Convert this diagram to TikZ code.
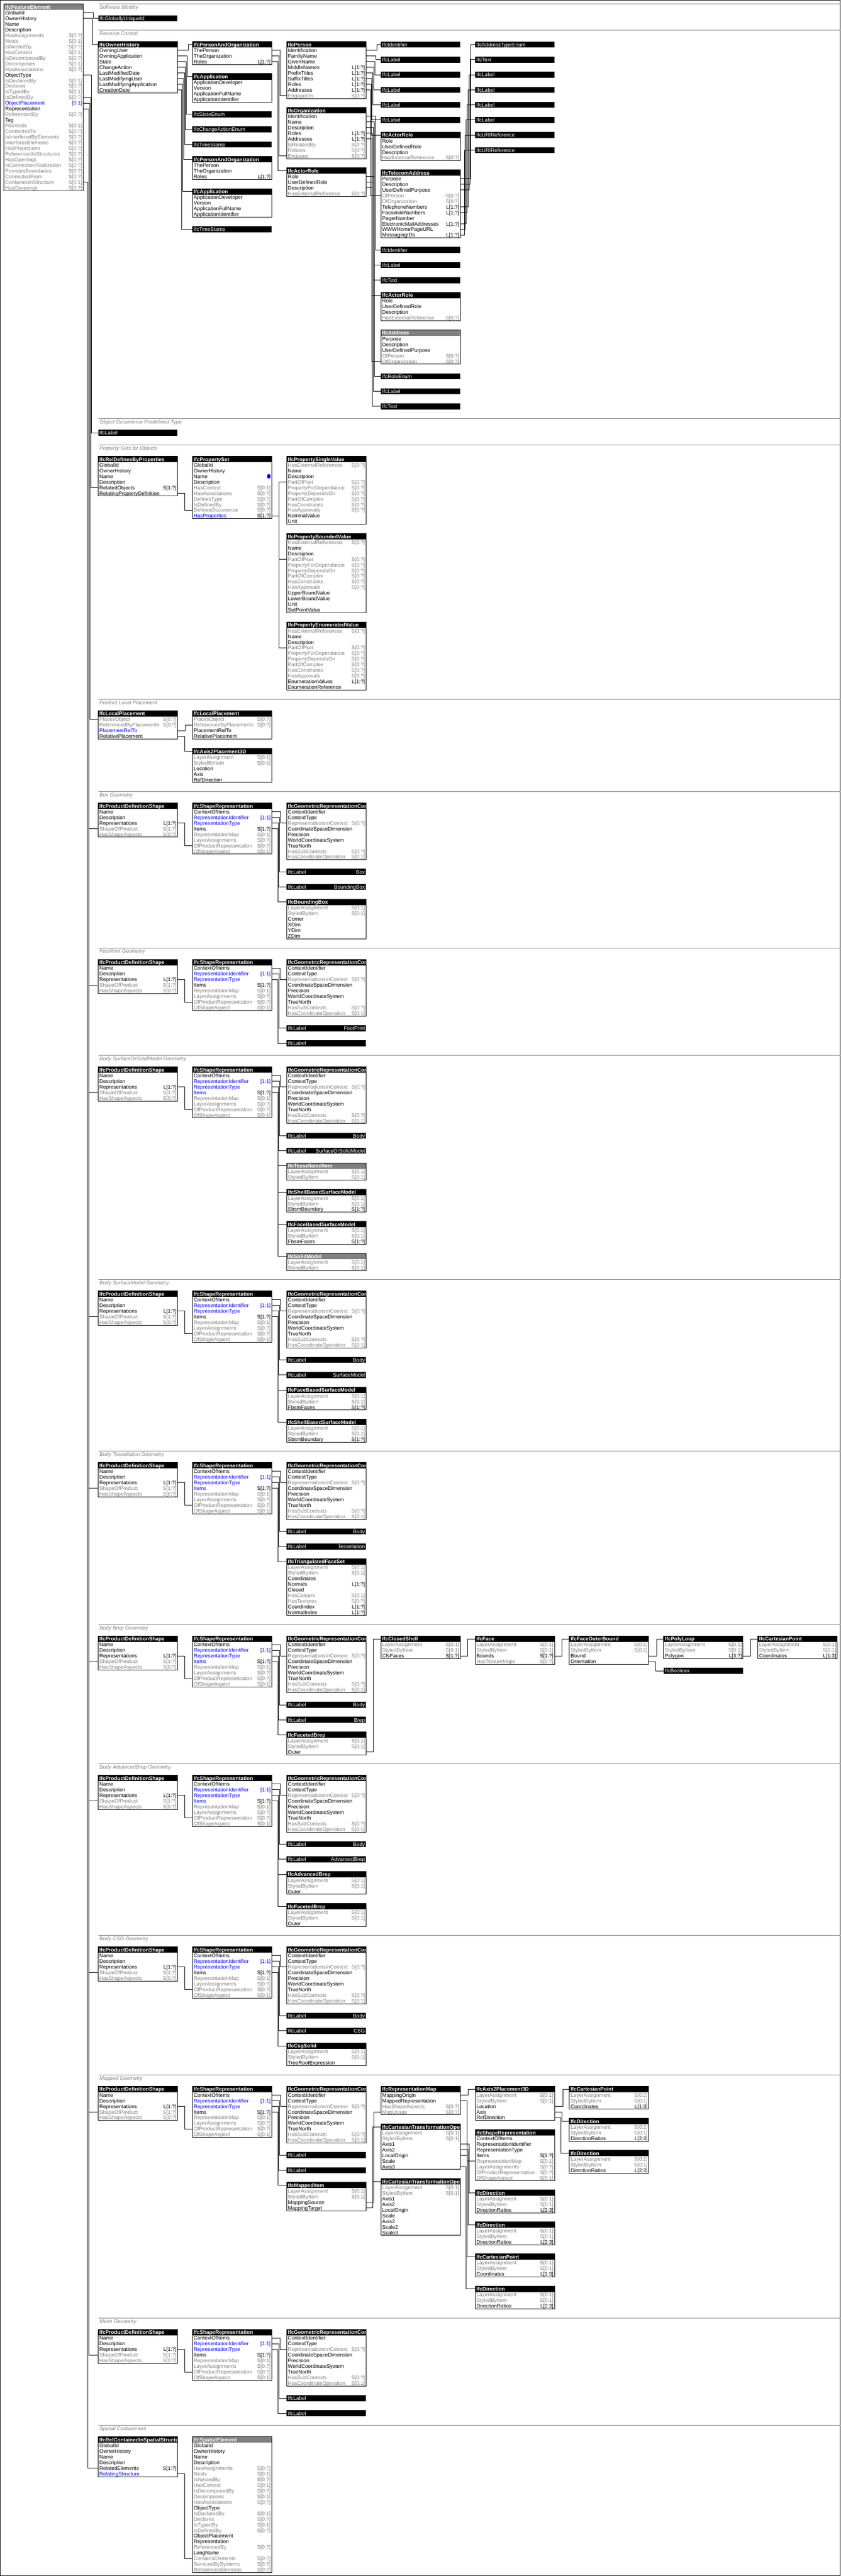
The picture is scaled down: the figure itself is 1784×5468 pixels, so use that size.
\documentclass[tikz,border=0pt]{standalone}
\usepackage{fontspec}
\setmainfont{Liberation Sans}
\definecolor{gt}{HTML}{808080}
\definecolor{bl}{HTML}{0000FF}
\newcounter{rowi}
\newcommand\fs{\fontsize{11}{12}\selectfont}
\tikzset{
 att/.style={anchor=base west,inner sep=0pt,font=\fs},
 crd/.style={anchor=base east,inner sep=0pt,font=\fs},
 hdr/.style={anchor=base west,inner sep=0pt,font=\fs\bfseries,text=white},
 bart/.style={anchor=base west,inner sep=0pt,font=\fs,text=white},
 barv/.style={anchor=base east,inner sep=0pt,font=\fs,text=white},
 sec/.style={anchor=base west,inner sep=0pt,font=\fs\itshape,text=gt},
 cl/.style={line width=1pt},
 bx/.style={line width=1pt},
 sg/.style={draw=gt,line width=1pt}
}
\newcommand\rw[4]{%
  \stepcounter{rowi}%
  \edef\rn{\arabic{rowi}}%
  \pgfmathsetmacro\rc{\EY+12.67+12*\rn-6}%
  \node[att,text=#2] at (\EX+2.5,\rc+4) {#1};%
  \node[crd,text=#4] at (\EX+166.3,\rc+4) {#3};%
  \coordinate (\EN-\rn) at (\EX+168.33,\rc);%
  \coordinate (\EN-w\rn) at (\EX,\rc);%
}
\newcommand\Ka[2]{\rw{#1}{black}{#2}{black}}
\newcommand\Ga[2]{\rw{#1}{gt}{#2}{gt}}
\newcommand\Ba[2]{\rw{#1}{bl}{#2}{bl}}
\newcommand\Bk[2]{\rw{#1}{bl}{#2}{black}}
\newcommand\ent[6]{%
  \def\EN{#1}\def\EX{#2}\def\EY{#3}%
  \setcounter{rowi}{0}%
  #6%
  \pgfmathsetmacro\EB{#3+12.67+12*\arabic{rowi}}%
  \fill[#4] (#2,#3) rectangle ++(168.33,12.67);%
  \begin{scope}\clip (#2,#3) rectangle ++(168.33,12.67);%
  \node[hdr] at (#2+2.5,#3+10.5) {#5};\end{scope}%
  \draw[bx] (#2,#3) rectangle (#2+168.33,\EB);%
  \coordinate (#1) at (#2,#3+6.33);%
}
\newcommand\tb[5]{%
  \fill (#2,#3) rectangle ++(168.33,12.67);%
  \node[bart] at (#2+2.5,#3+10.5) {#4};%
  \node[barv] at (#2+166.3,#3+10.5) {#5};%
  \coordinate (#1) at (#2,#3+6.33);%
}
\newcommand\sect[2]{%
  \draw[sg] (208.33,#1) -- (1784,#1);%
  \node[sec] at (211,#1+10.7) {#2};%
}
\newcommand\cn[3]{\draw[cl] (#1) -- ++(#2,0) |- (#3);}
\newcommand\pds[2]{\ent{#1}{208.33}{#2}{black}{IfcProductDefinitionShape}{\Ka{Name}{}\Ka{Description}{}\Ka{Representations}{L[1:?]}\Ga{ShapeOfProduct}{S[1:?]}\Ga{HasShapeAspects}{S[0:?]}}}
\newcommand\grc[2]{\ent{#1}{608.33}{#2}{black}{IfcGeometricRepresentationContext}{\Ka{ContextIdentifier}{}\Ka{ContextType}{}\Ga{RepresentationsInContext}{S[0:?]}\Ka{CoordinateSpaceDimension}{}\Ka{Precision}{}\Ka{WorldCoordinateSystem}{}\Ka{TrueNorth}{}\Ga{HasSubContexts}{S[0:?]}\Ga{HasCoordinateOperation}{S[0:1]}}}
\newcommand\geo[4]{%
 \pds{#1p}{#2}%
 \ent{#1s}{408.33}{#2}{black}{IfcShapeRepresentation}{\Ka{ContextOfItems}{}\Ba{RepresentationIdentifier}{[1:1]}\Ba{RepresentationType}{}#3{Items}{S[1:?]}\Ga{RepresentationMap}{S[0:1]}\Ga{LayerAssignments}{S[0:?]}\Ga{OfProductRepresentation}{S[0:?]}\Ga{OfShapeAspect}{S[0:1]}}%
 \grc{#1g}{#2}%
 \cn{fe-18}{11.8}{#1p-w4}%
 \cn{#1p-3}{15.8}{#1s-w7}%
 \pgfmathsetmacro\gdx{14.8+#4}%
 \cn{#1s-1}{\gdx}{#1g-w3}%
}
\newcommand\pao[2]{\ent{#1}{408.33}{#2}{black}{IfcPersonAndOrganization}{\Ka{ThePerson}{}\Ka{TheOrganization}{}\Ka{Roles}{L[1:?]}}}
\newcommand\app[2]{\ent{#1}{408.33}{#2}{black}{IfcApplication}{\Ka{ApplicationDeveloper}{}\Ka{Version}{}\Ka{ApplicationFullName}{}\Ka{ApplicationIdentifier}{}}}
\newcommand\actr[3]{\ent{#1}{#2}{#3}{black}{IfcActorRole}{\Ka{Role}{}\Ka{UserDefinedRole}{}\Ka{Description}{}\Ga{HasExternalReference}{S[0:?]}}}
\newcommand\dirn[3]{\ent{#1}{#2}{#3}{black}{IfcDirection}{\Ga{LayerAssignment}{S[0:1]}\Ga{StyledByItem}{S[0:1]}\Ka{DirectionRatios}{L[2:3]}}}
\newcommand\cpnt[3]{\ent{#1}{#2}{#3}{black}{IfcCartesianPoint}{\Ga{LayerAssignment}{S[0:1]}\Ga{StyledByItem}{S[0:1]}\Ka{Coordinates}{L[1:3]}}}
\newcommand\atp[3]{\ent{#1}{#2}{#3}{black}{IfcAxis2Placement3D}{\Ga{LayerAssignment}{S[0:1]}\Ga{StyledByItem}{S[0:1]}\Ka{Location}{}\Ka{Axis}{}\Ka{RefDirection}{}}}
\newcommand\psx[4]{\ent{#1}{608.33}{#2}{black}{#3}{\Ga{HasExternalReferences}{S[0:?]}\Ka{Name}{}\Ka{Description}{}\Ga{PartOfPset}{S[0:?]}\Ga{PropertyForDependance}{S[0:?]}\Ga{PropertyDependsOn}{S[0:?]}\Ga{PartOfComplex}{S[0:?]}\Ga{HasConstraints}{S[0:?]}\Ga{HasApprovals}{S[0:?]}#4}}
\newcommand\lasb{\Ga{LayerAssignment}{S[0:1]}\Ga{StyledByItem}{S[0:1]}}
\begin{document}
\begin{tikzpicture}[x=1pt,y=-1pt]
\useasboundingbox (0,0) rectangle (1784,5468);
\fill[white] (0,0) rectangle (1784,5468);
\draw[line width=1pt] (0.5,0.5) rectangle (1783.5,5467);
% ---------------- main element
\ent{fe}{8.33}{8.33}{gt}{IfcFeatureElement}{\Ka{GlobalId}{}\Ka{OwnerHistory}{}\Ka{Name}{}\Ka{Description}{}\Ga{HasAssignments}{S[0:?]}\Ga{Nests}{S[0:1]}\Ga{IsNestedBy}{S[0:?]}\Ga{HasContext}{S[0:1]}\Ga{IsDecomposedBy}{S[0:?]}\Ga{Decomposes}{S[0:1]}\Ga{HasAssociations}{S[0:?]}\Ka{ObjectType}{}\Ga{IsDeclaredBy}{S[0:1]}\Ga{Declares}{S[0:?]}\Ga{IsTypedBy}{S[0:1]}\Ga{IsDefinedBy}{S[0:?]}\Ba{ObjectPlacement}{[0:1]}\Ka{Representation}{}\Ga{ReferencedBy}{S[0:?]}\Ka{Tag}{}\Ga{FillsVoids}{S[0:1]}\Ga{ConnectedTo}{S[0:?]}\Ga{IsInterferedByElements}{S[0:?]}\Ga{InterferesElements}{S[0:?]}\Ga{HasProjections}{S[0:?]}\Ga{ReferencedInStructures}{S[0:?]}\Ga{HasOpenings}{S[0:?]}\Ga{IsConnectionRealization}{S[0:?]}\Ga{ProvidesBoundaries}{S[0:?]}\Ga{ConnectedFrom}{S[0:?]}\Ga{ContainedInStructure}{S[0:1]}\Ga{HasCoverings}{S[0:?]}}
% ---------------- Software identity
\sect{8.33}{Software Identity}
\tb{guid}{208.33}{32.33}{IfcGloballyUniqueId}{}
% ---------------- Revision control
\sect{64.33}{Revision Control}
\ent{oh}{208.33}{88.33}{black}{IfcOwnerHistory}{\Ka{OwningUser}{}\Ka{OwningApplication}{}\Ka{State}{}\Ka{ChangeAction}{}\Ka{LastModifiedDate}{}\Ka{LastModifyingUser}{}\Ka{LastModifyingApplication}{}\Ka{CreationDate}{}}
\pao{pao1}{88.33}
\app{app1}{156.33}
\tb{state}{408.33}{236.33}{IfcStateEnum}{}
\tb{cae}{408.33}{268.33}{IfcChangeActionEnum}{}
\tb{ts1}{408.33}{300.33}{IfcTimeStamp}{}
\pao{pao2}{332.33}
\app{app2}{400.33}
\tb{ts2}{408.33}{480.33}{IfcTimeStamp}{}
\ent{per}{608.33}{88.33}{black}{IfcPerson}{\Ka{Identification}{}\Ka{FamilyName}{}\Ka{GivenName}{}\Ka{MiddleNames}{L[1:?]}\Ka{PrefixTitles}{L[1:?]}\Ka{SuffixTitles}{L[1:?]}\Ka{Roles}{L[1:?]}\Ka{Addresses}{L[1:?]}\Ga{EngagedIn}{S[0:?]}}
\ent{org}{608.33}{228.33}{black}{IfcOrganization}{\Ka{Identification}{}\Ka{Name}{}\Ka{Description}{}\Ka{Roles}{L[1:?]}\Ka{Addresses}{L[1:?]}\Ga{IsRelatedBy}{S[0:?]}\Ga{Relates}{S[0:?]}\Ga{Engages}{S[0:?]}}
\actr{ar1}{608.33}{356.33}
\tb{id1}{808.33}{88.33}{IfcIdentifier}{}
\tb{lab1}{808.33}{120.33}{IfcLabel}{}
\tb{lab2}{808.33}{152.33}{IfcLabel}{}
\tb{lab3}{808.33}{184.33}{IfcLabel}{}
\tb{lab4}{808.33}{216.33}{IfcLabel}{}
\tb{lab5}{808.33}{248.33}{IfcLabel}{}
\actr{ar2}{808.33}{280.33}
\ent{tel}{808.33}{360.33}{black}{IfcTelecomAddress}{\Ka{Purpose}{}\Ka{Description}{}\Ka{UserDefinedPurpose}{}\Ga{OfPerson}{S[0:?]}\Ga{OfOrganization}{S[0:?]}\Ka{TelephoneNumbers}{L[1:?]}\Ka{FacsimileNumbers}{L[1:?]}\Ka{PagerNumber}{}\Ka{ElectronicMailAddresses}{L[1:?]}\Ka{WWWHomePageURL}{}\Ka{MessagingIDs}{L[1:?]}}
\tb{id2}{808.33}{524.33}{IfcIdentifier}{}
\tb{lab6}{808.33}{556.33}{IfcLabel}{}
\tb{txt1}{808.33}{588.33}{IfcText}{}
\actr{ar3}{808.33}{620.33}
\ent{addr}{808.33}{700.33}{gt}{IfcAddress}{\Ka{Purpose}{}\Ka{Description}{}\Ka{UserDefinedPurpose}{}\Ga{OfPerson}{S[0:?]}\Ga{OfOrganization}{S[0:?]}}
\tb{role}{808.33}{792.33}{IfcRoleEnum}{}
\tb{lab7}{808.33}{824.33}{IfcLabel}{}
\tb{txt2}{808.33}{856.33}{IfcText}{}
\tb{ate}{1008.33}{88.33}{IfcAddressTypeEnum}{}
\tb{txt3}{1008.33}{120.33}{IfcText}{}
\tb{lab8}{1008.33}{152.33}{IfcLabel}{}
\tb{lab9}{1008.33}{184.33}{IfcLabel}{}
\tb{lab10}{1008.33}{216.33}{IfcLabel}{}
\tb{lab11}{1008.33}{248.33}{IfcLabel}{}
\tb{uri1}{1008.33}{280.33}{IfcURIReference}{}
\tb{uri2}{1008.33}{312.33}{IfcURIReference}{}
% connectors revision control
\cn{fe-1}{21.8}{guid}
\cn{fe-2}{19.8}{oh}
\cn{oh-1}{22.8}{pao1}
\cn{oh-2}{20.8}{app1}
\cn{oh-3}{18.8}{state}
\cn{oh-4}{16.8}{cae}
\cn{oh-5}{14.8}{ts1}
\cn{oh-6}{12.8}{pao2}
\cn{oh-7}{10.8}{app2}
\cn{oh-8}{8.8}{ts2}
\cn{pao1-1}{17.8}{per-w9}
\cn{pao1-2}{15.8}{org-w8}
\cn{pao1-3}{13.8}{ar1}
\cn{per-1}{22.8}{id1}
\cn{per-2}{20.8}{lab1}
\cn{per-3}{18.8}{lab2}
\cn{per-4}{16.8}{lab3}
\cn{per-5}{14.8}{lab4}
\cn{per-6}{12.8}{lab5}
\cn{per-7}{10.8}{ar2}
\cn{per-8}{8.8}{tel-w4}
\cn{org-1}{19.8}{id2}
\cn{org-2}{17.8}{lab6}
\cn{org-3}{15.8}{txt1}
\cn{org-4}{13.8}{ar3}
\cn{org-5}{11.8}{addr-w5}
\cn{ar1-1}{17.8}{role}
\cn{ar1-2}{15.8}{lab7}
\cn{ar1-3}{13.8}{txt2}
\cn{tel-1}{22.8}{ate}
\cn{tel-2}{20.8}{txt3}
\cn{tel-3}{18.8}{lab8}
\cn{tel-6}{16.8}{lab9}
\cn{tel-7}{14.8}{lab10}
\cn{tel-9}{12.8}{lab11}
\cn{tel-10}{10.8}{uri1}
\cn{tel-11}{8.8}{uri2}
% ---------------- Object type
\sect{888.33}{Object Occurrence Predefined Type}
\tb{ot}{208.33}{912.33}{IfcLabel}{}
\cn{fe-12}{17.8}{ot}
% ---------------- Property sets
\sect{944.33}{Property Sets for Objects}
\ent{rdp}{208.33}{968.33}{black}{IfcRelDefinesByProperties}{\Ka{GlobalId}{}\Ka{OwnerHistory}{}\Ka{Name}{}\Ka{Description}{}\Ka{RelatedObjects}{S[1:?]}\Ka{RelatingPropertyDefinition}{}}
\ent{pset}{408.33}{968.33}{black}{IfcPropertySet}{\Ka{GlobalId}{}\Ka{OwnerHistory}{}\Ka{Name}{}\Ka{Description}{}\Ga{HasContext}{S[0:1]}\Ga{HasAssociations}{S[0:?]}\Ga{DefinesType}{S[0:?]}\Ga{IsDefinedBy}{S[0:?]}\Ga{DefinesOccurrence}{S[0:?]}\Bk{HasProperties}{S[1:?]}}
\fill[bl] (570.5,1011) ellipse [x radius=4pt,y radius=5pt];
\psx{psv}{968.33}{IfcPropertySingleValue}{\Ka{NominalValue}{}\Ka{Unit}{}}
\psx{pbv}{1132.33}{IfcPropertyBoundedValue}{\Ka{UpperBoundValue}{}\Ka{LowerBoundValue}{}\Ka{Unit}{}\Ka{SetPointValue}{}}
\psx{pev}{1320.33}{IfcPropertyEnumeratedValue}{\Ka{EnumerationValues}{L[1:?]}\Ka{EnumerationReference}{}}
\cn{fe-16}{15.8}{rdp-w5}
\cn{rdp-6}{15.8}{pset-w9}
\cn{pset-10}{15.8}{psv-w4}
\cn{pset-10}{15.8}{pbv-w4}
\cn{pset-10}{15.8}{pev-w4}
% ---------------- Local placement
\sect{1484.33}{Product Local Placement}
\ent{lp1}{208.33}{1508.33}{black}{IfcLocalPlacement}{\Ga{PlacesObject}{S[0:?]}\Ga{ReferencedByPlacements}{S[0:?]}\Ba{PlacementRelTo}{}\Ka{RelativePlacement}{}}
\ent{lp2}{408.33}{1508.33}{black}{IfcLocalPlacement}{\Ga{PlacesObject}{S[0:?]}\Ga{ReferencedByPlacements}{S[0:?]}\Ka{PlacementRelTo}{}\Ka{RelativePlacement}{}}
\atp{a2p1}{408.33}{1588.33}
\cn{fe-17}{13.8}{lp1-w1}
\cn{lp1-3}{16.8}{lp2-w2}
\cn{lp1-4}{14.8}{a2p1}
% ---------------- Box geometry
\sect{1680.33}{Box Geometry}
\geo{b}{1704.33}{\Ka}{4}
\tb{blab1}{608.33}{1844.33}{IfcLabel}{Box}
\tb{blab2}{608.33}{1876.33}{IfcLabel}{BoundingBox}
\ent{bbox}{608.33}{1908.33}{black}{IfcBoundingBox}{\lasb\Ka{Corner}{}\Ka{XDim}{}\Ka{YDim}{}\Ka{ZDim}{}}
\cn{bs-2}{16.8}{blab1}
\cn{bs-3}{14.8}{blab2}
\cn{bs-4}{12.8}{bbox}
% ---------------- FootPrint
\sect{2012.33}{FootPrint Geometry}
\geo{f}{2036.33}{\Ka}{3}
\tb{flab1}{608.33}{2176.33}{IfcLabel}{FootPrint}
\tb{flab2}{608.33}{2208.33}{IfcLabel}{}
\cn{fs-2}{15.8}{flab1}
\cn{fs-3}{13.8}{flab2}
% ---------------- SurfaceOrSolidModel
\sect{2240.33}{Body SurfaceOrSolidModel Geometry}
\geo{o}{2264.33}{\Bk}{4}
\tb{olab1}{608.33}{2404.33}{IfcLabel}{Body}
\tb{olab2}{608.33}{2436.33}{IfcLabel}{SurfaceOrSolidModel}
\ent{otess}{608.33}{2468.33}{gt}{IfcTessellatedItem}{\lasb}
\ent{osbsm}{608.33}{2524.33}{black}{IfcShellBasedSurfaceModel}{\lasb\Ka{SbsmBoundary}{S[1:?]}}
\ent{ofbsm}{608.33}{2592.33}{black}{IfcFaceBasedSurfaceModel}{\lasb\Ka{FbsmFaces}{S[1:?]}}
\ent{osolid}{608.33}{2660.33}{gt}{IfcSolidModel}{\lasb}
\cn{os-2}{16.8}{olab1}
\cn{os-3}{14.8}{olab2}
\cn{os-4}{12.8}{otess}
\cn{os-4}{12.8}{osbsm}
\cn{os-4}{12.8}{ofbsm}
\cn{os-4}{12.8}{osolid}
% ---------------- SurfaceModel
\sect{2716.33}{Body SurfaceModel Geometry}
\geo{m}{2740.33}{\Ka}{4}
\tb{mlab1}{608.33}{2880.33}{IfcLabel}{Body}
\tb{mlab2}{608.33}{2912.33}{IfcLabel}{SurfaceModel}
\ent{mfbsm}{608.33}{2944.33}{black}{IfcFaceBasedSurfaceModel}{\lasb\Ka{FbsmFaces}{S[1:?]}}
\ent{msbsm}{608.33}{3012.33}{black}{IfcShellBasedSurfaceModel}{\lasb\Ka{SbsmBoundary}{S[1:?]}}
\cn{ms-2}{16.8}{mlab1}
\cn{ms-3}{14.8}{mlab2}
\cn{ms-4}{12.8}{mfbsm}
\cn{ms-4}{12.8}{msbsm}
% ---------------- Tessellation
\sect{3080.33}{Body Tessellation Geometry}
\geo{t}{3104.33}{\Bk}{4}
\tb{tlab1}{608.33}{3244.33}{IfcLabel}{Body}
\tb{tlab2}{608.33}{3276.33}{IfcLabel}{Tessellation}
\ent{tfs}{608.33}{3308.33}{black}{IfcTriangulatedFaceSet}{\lasb\Ka{Coordinates}{}\Ka{Normals}{L[1:?]}\Ka{Closed}{}\Ga{HasColours}{S[0:1]}\Ga{HasTextures}{S[0:?]}\Ka{CoordIndex}{L[1:?]}\Ka{NormalIndex}{L[1:?]}}
\cn{ts-2}{16.8}{tlab1}
\cn{ts-3}{14.8}{tlab2}
\cn{ts-4}{12.8}{tfs}
% ---------------- Brep
\sect{3448.33}{Body Brep Geometry}
\geo{r}{3472.33}{\Bk}{4}
\tb{rlab1}{608.33}{3612.33}{IfcLabel}{Body}
\tb{rlab2}{608.33}{3644.33}{IfcLabel}{Brep}
\ent{rfb}{608.33}{3676.33}{black}{IfcFacetedBrep}{\lasb\Ka{Outer}{}}
\ent{rcs}{808.33}{3472.33}{black}{IfcClosedShell}{\lasb\Ka{CfsFaces}{S[1:?]}}
\ent{rface}{1008.33}{3472.33}{black}{IfcFace}{\lasb\Ka{Bounds}{S[1:?]}\Ga{HasTextureMaps}{S[0:?]}}
\ent{rfob}{1208.33}{3472.33}{black}{IfcFaceOuterBound}{\lasb\Ka{Bound}{}\Ka{Orientation}{}}
\ent{rpl}{1408.33}{3472.33}{black}{IfcPolyLoop}{\lasb\Ka{Polygon}{L[3:?]}}
\tb{rbool}{1408.33}{3540.33}{IfcBoolean}{}
\cpnt{rcp}{1608.33}{3472.33}
\cn{rs-2}{16.8}{rlab1}
\cn{rs-3}{14.8}{rlab2}
\cn{rs-4}{12.8}{rfb}
\cn{rfb-3}{15.8}{rcs}
\cn{rcs-3}{15.8}{rface}
\cn{rface-3}{15.8}{rfob}
\cn{rfob-3}{16.8}{rpl}
\cn{rfob-4}{14.8}{rbool}
\cn{rpl-3}{15.8}{rcp}
% ---------------- AdvancedBrep
\sect{3744.33}{Body AdvancedBrep Geometry}
\geo{a}{3768.33}{\Bk}{4}
\tb{alab1}{608.33}{3908.33}{IfcLabel}{Body}
\tb{alab2}{608.33}{3940.33}{IfcLabel}{AdvancedBrep}
\ent{aab}{608.33}{3972.33}{black}{IfcAdvancedBrep}{\lasb\Ka{Outer}{}}
\ent{afb}{608.33}{4040.33}{black}{IfcFacetedBrep}{\lasb\Ka{Outer}{}}
\cn{as-2}{16.8}{alab1}
\cn{as-3}{14.8}{alab2}
\cn{as-4}{12.8}{aab}
\cn{as-4}{12.8}{afb}
% ---------------- CSG
\sect{4108.33}{Body CSG Geometry}
\geo{c}{4132.33}{\Ka}{4}
\tb{clab1}{608.33}{4272.33}{IfcLabel}{Body}
\tb{clab2}{608.33}{4304.33}{IfcLabel}{CSG}
\ent{ccsg}{608.33}{4336.33}{black}{IfcCsgSolid}{\lasb\Ka{TreeRootExpression}{}}
\cn{cs-2}{16.8}{clab1}
\cn{cs-3}{14.8}{clab2}
\cn{cs-4}{12.8}{ccsg}
% ---------------- Mapped
\sect{4404.33}{Mapped Geometry}
\geo{p}{4428.33}{\Ka}{4}
\tb{plab1}{608.33}{4568.33}{IfcLabel}{}
\tb{plab2}{608.33}{4600.33}{IfcLabel}{}
\ent{pmi}{608.33}{4632.33}{black}{IfcMappedItem}{\lasb\Ka{MappingSource}{}\Ka{MappingTarget}{}}
\ent{prm}{808.33}{4428.33}{black}{IfcRepresentationMap}{\Ka{MappingOrigin}{}\Ka{MappedRepresentation}{}\Ga{HasShapeAspects}{S[0:?]}\Ga{MapUsage}{S[0:?]}}
\ent{pcto}{808.33}{4508.33}{black}{IfcCartesianTransformationOperator3D}{\lasb\Ka{Axis1}{}\Ka{Axis2}{}\Ka{LocalOrigin}{}\Ka{Scale}{}\Ka{Axis3}{}}
\ent{pctonu}{808.33}{4624.33}{black}{IfcCartesianTransformationOperator3DnonUniform}{\lasb\Ka{Axis1}{}\Ka{Axis2}{}\Ka{LocalOrigin}{}\Ka{Scale}{}\Ka{Axis3}{}\Ka{Scale2}{}\Ka{Scale3}{}}
\atp{pa2p}{1008.33}{4428.33}
\ent{psr2}{1008.33}{4520.33}{black}{IfcShapeRepresentation}{\Ka{ContextOfItems}{}\Ka{RepresentationIdentifier}{}\Ka{RepresentationType}{}\Ka{Items}{S[1:?]}\Ga{RepresentationMap}{S[0:1]}\Ga{LayerAssignments}{S[0:?]}\Ga{OfProductRepresentation}{S[0:?]}\Ga{OfShapeAspect}{S[0:1]}}
\dirn{pdir1}{1008.33}{4648.33}
\dirn{pdir2}{1008.33}{4716.33}
\cpnt{pcp1}{1008.33}{4784.33}
\dirn{pdir3}{1008.33}{4852.33}
\cpnt{pcp2}{1208.33}{4428.33}
\dirn{pdir4}{1208.33}{4496.33}
\dirn{pdir5}{1208.33}{4564.33}
\cn{ps-2}{16.8}{plab1}
\cn{ps-3}{14.8}{plab2}
\cn{ps-4}{12.8}{pmi}
\cn{pmi-3}{16.8}{prm-w4}
\cn{pmi-4}{14.8}{pcto}
\cn{pmi-4}{14.8}{pctonu}
\cn{prm-1}{16.8}{pa2p}
\cn{prm-2}{14.8}{psr2-w5}
\cn{pcto-3}{18.8}{pdir1}
\cn{pcto-4}{16.8}{pdir2}
\cn{pcto-5}{14.8}{pcp1}
\cn{pcto-7}{12.8}{pdir3}
\cn{pa2p-3}{17.8}{pcp2}
\cn{pa2p-4}{15.8}{pdir4}
\cn{pa2p-5}{13.8}{pdir5}
% ---------------- Mesh
\sect{4920.33}{Mesh Geometry}
\geo{e}{4944.33}{\Ka}{3}
\tb{elab1}{608.33}{5084.33}{IfcLabel}{}
\tb{elab2}{608.33}{5116.33}{IfcLabel}{}
\cn{es-2}{15.8}{elab1}
\cn{es-3}{13.8}{elab2}
% ---------------- Spatial containment
\sect{5148.33}{Spatial Containment}
\ent{rcss}{208.33}{5172.33}{black}{IfcRelContainedInSpatialStructure}{\Ka{GlobalId}{}\Ka{OwnerHistory}{}\Ka{Name}{}\Ka{Description}{}\Ka{RelatedElements}{S[1:?]}\Ba{RelatingStructure}{}}
\ent{se}{408.33}{5172.33}{gt}{IfcSpatialElement}{\Ka{GlobalId}{}\Ka{OwnerHistory}{}\Ka{Name}{}\Ka{Description}{}\Ga{HasAssignments}{S[0:?]}\Ga{Nests}{S[0:1]}\Ga{IsNestedBy}{S[0:?]}\Ga{HasContext}{S[0:1]}\Ga{IsDecomposedBy}{S[0:?]}\Ga{Decomposes}{S[0:1]}\Ga{HasAssociations}{S[0:?]}\Ka{ObjectType}{}\Ga{IsDeclaredBy}{S[0:1]}\Ga{Declares}{S[0:?]}\Ga{IsTypedBy}{S[0:1]}\Ga{IsDefinedBy}{S[0:?]}\Ka{ObjectPlacement}{}\Ka{Representation}{}\Ga{ReferencedBy}{S[0:?]}\Ka{LongName}{}\Ga{ContainsElements}{S[0:?]}\Ga{ServicedBySystems}{S[0:?]}\Ga{ReferencesElements}{S[0:?]}}
\cn{fe-31}{9.8}{rcss-w5}
\cn{rcss-6}{15.8}{se-w21}
\end{tikzpicture}
\end{document}
